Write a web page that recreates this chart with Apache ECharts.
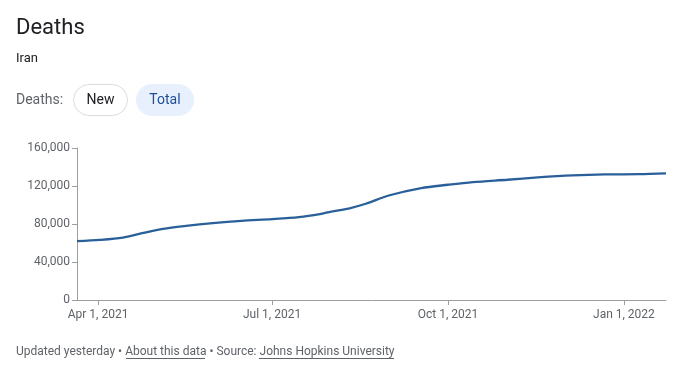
<!DOCTYPE html>
<html>
<head>
<meta charset="utf-8">
<script src="https://cdn.jsdelivr.net/npm/echarts@6/dist/echarts.min.js"></script>
<style>
html,body{margin:0;padding:0;background:#fff;}
#c{width:695px;height:365px;}
</style>
</head>
<body>
<div id="c"></div>
<script>
var dates = ['2021-03-21','2021-04-02','2021-04-14','2021-04-24','2021-05-05','2021-05-17','2021-05-31','2021-06-15','2021-07-01','2021-07-15','2021-07-26','2021-08-01','2021-08-10','2021-08-19','2021-08-31','2021-09-17','2021-10-01','2021-10-14','2021-11-01','2021-11-17','2021-12-05','2021-12-22','2022-01-09','2022-01-23'];
var deaths = [62000,63300,65700,70300,74900,78000,80900,83300,85100,87200,90400,93100,96300,101300,110000,117800,121300,124100,126600,129000,131100,132200,132400,133200];
var xTickDates = ['2021-04-01','2021-07-01','2021-10-01','2022-01-01'];
var xTickLabels = ['Apr 1, 2021','Jul 1, 2021','Oct 1, 2021','Jan 1, 2022'];
var yTicks = [0,40000,80000,120000,160000];

var xMin = '2021-03-21', xMax = '2022-01-23';
function ts(s){ var p=s.split('-'); return Date.UTC(+p[0],+p[1]-1,+p[2]); }
var tickTs = xTickDates.map(ts);
var labelMap = {};
tickTs.forEach(function(t,i){ labelMap[t]=xTickLabels[i]; });

var chart = echarts.init(document.getElementById('c'));
var font = 'Roboto, Arial, sans-serif';
chart.setOption({
  animation:false,
  grid:{left:77,right:29,top:148,bottom:65},
  xAxis:{
    type:'value',
    min:ts(xMin), max:ts(xMax),
    axisLine:{show:true,lineStyle:{color:'#9e9e9e',width:1}},
    axisTick:{show:true,customValues:tickTs,length:5,lineStyle:{color:'#9e9e9e'}},
    axisLabel:{customValues:tickTs,formatter:function(v){return labelMap[v]||'';},color:'#5f6368',fontSize:12,fontFamily:font,margin:9,showMinLabel:true,showMaxLabel:true},
    splitLine:{show:false}
  },
  yAxis:{
    type:'value',min:0,max:160000,
    axisLine:{show:true,lineStyle:{color:'#9e9e9e',width:1}},
    axisTick:{show:true,customValues:yTicks,length:5,lineStyle:{color:'#9e9e9e'}},
    axisLabel:{customValues:yTicks,color:'#5f6368',fontSize:12,fontFamily:font,margin:7,formatter:function(v){return v.toLocaleString('en-US');}},
    splitLine:{show:false}
  },
  series:[{
    type:'line',
    data:dates.map(function(d,i){return [ts(d),deaths[i]];}),
    smooth:0.3,
    showSymbol:false,
    lineStyle:{color:'#2a6099',width:2.3},
    itemStyle:{color:'#2a6099'}
  }],
  graphic:[
    {type:'text',left:16,top:17,style:{text:'Deaths',fontSize:22,fontFamily:font,fill:'#202124'}},
    {type:'text',left:16,top:52,style:{text:'Iran',fontSize:13,fontFamily:font,fill:'#202124'}},
    {type:'text',left:16,top:93,style:{text:'Deaths:',fontSize:14,fontFamily:font,fill:'#5f6368'}},
    {type:'rect',shape:{x:73.5,y:84.5,width:54,height:31,r:15.5},style:{fill:'#fff',stroke:'#dadce0',lineWidth:1}},
    {type:'text',x:100.5,y:100.5,style:{text:'New',fontSize:14,fontFamily:font,fill:'#202124',align:'center',verticalAlign:'middle'}},
    {type:'rect',shape:{x:136,y:84,width:58,height:32,r:16},style:{fill:'#e8f0fe'}},
    {type:'text',x:165,y:100.5,style:{text:'Total',fontSize:14,fontFamily:font,fill:'#1a4f9c',align:'center',verticalAlign:'middle'}},
    {type:'text',left:16,top:346,style:{rich:{
        a:{fontSize:12,fontFamily:font,fill:'#5f6368'},
        u:{fontSize:12,fontFamily:font,fill:'#5f6368'}
      },text:'{a|Updated yesterday • }{u|About this data}{a| • Source: }{u|Johns Hopkins University}'}},
    {type:'line',shape:{x1:126,y1:358.5,x2:205,y2:358.5},style:{stroke:'#5f6368',lineWidth:1}},
    {type:'line',shape:{x1:259,y1:358.5,x2:394,y2:358.5},style:{stroke:'#5f6368',lineWidth:1}}
  ]
});
</script>
</body>
</html>
